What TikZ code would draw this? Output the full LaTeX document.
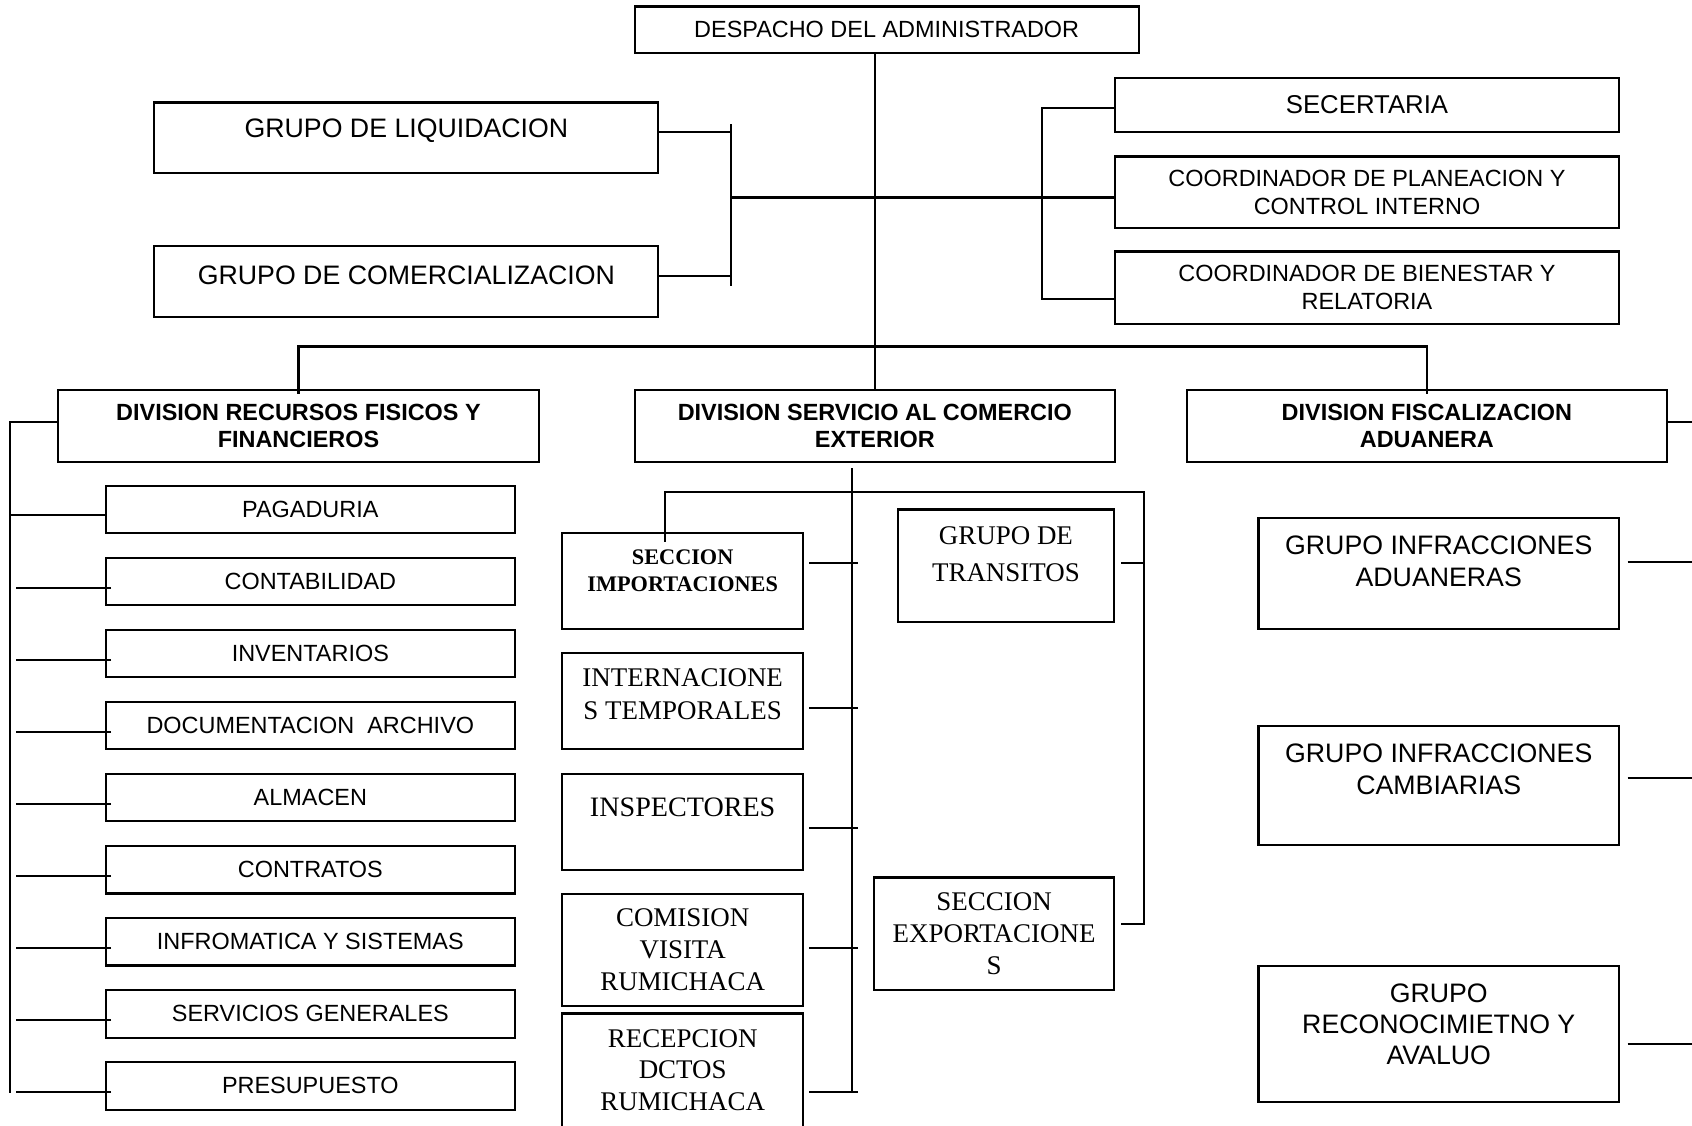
\documentclass[tikz,border=0pt]{standalone}
\usepackage{fontspec}
\setmainfont{Liberation Sans}
\newfontfamily\timesfont{Liberation Serif}
\usetikzlibrary{calc}

\begin{document}
\begin{tikzpicture}
        \tikzstyle{every path}=[line width=0.9pt]
        \tikzstyle{box}=[rectangle,draw=black,fill=white,inner sep=1.5pt,align=center]
        \tikzstyle{txt}=[align=center,inner sep=0pt]
        \tikzstyle{f10}=[font=\fontsize{10}{12}\selectfont]
        \tikzstyle{f10b}=[font=\fontsize{10}{11.5}\selectfont\bfseries]
        \tikzstyle{f11}=[font=\fontsize{11}{13}\selectfont]
        \tikzstyle{f115}=[font=\fontsize{11.4}{13.8}\selectfont]
        \tikzstyle{tm}=[font=\timesfont\fontsize{11.5}{13.5}\selectfont]
        \useasboundingbox (0,0) rectangle (25.38,-16.875);

        % top level
        \node [box, f10, minimum width=7.561cm, minimum height=0.696cm] (n0) at (13.300,-0.445) {DESPACHO DEL ADMINISTRADOR};
        \node [box, minimum width=7.561cm, minimum height=1.052cm, label={[txt, f115, yshift=0.105cm]center:{GRUPO DE LIQUIDACION}}] (n1) at (6.096,-2.064) {};
        \node [box, minimum width=7.561cm, minimum height=1.069cm, label={[txt, f115, yshift=0.097cm]center:{GRUPO DE COMERCIALIZACION}}] (n2) at (6.096,-4.226) {};
        \node [box, f11, minimum width=7.561cm, minimum height=0.810cm] (n3) at (20.505,-1.570) {SECERTARIA};
        \node [box, f10, minimum width=7.561cm, minimum height=1.069cm] (n4) at (20.505,-2.882) {COORDINADOR DE PLANEACION Y\\CONTROL INTERNO};
        \node [box, f10, minimum width=7.561cm, minimum height=1.085cm] (n5) at (20.505,-4.315) {COORDINADOR DE BIENESTAR Y\\RELATORIA};

        % divisiones
        \node [box, f10b, minimum width=7.205cm, minimum height=1.085cm] (n6) at (4.477,-6.387) {DIVISION RECURSOS FISICOS Y\\FINANCIEROS};
        \node [box, f10b, minimum width=7.205cm, minimum height=1.085cm] (n7) at (13.122,-6.387) {DIVISION SERVICIO AL COMERCIO\\EXTERIOR};
        \node [box, f10b, minimum width=7.205cm, minimum height=1.085cm] (n8) at (21.403,-6.387) {DIVISION FISCALIZACION\\ADUANERA};

        \coordinate (b1) at (10.961,-1.862);
        \coordinate (b2) at (10.961,-4.290);
        \coordinate (b3) at (10.961,-2.963);
        \draw [] (n0.south -| n7.north) -- (n7.north);
        \draw [] ([yshift=0.089cm]n1.east) -- ++(1.085,0);
        \draw [] ([yshift=0.081cm]n2.east) -- ++(1.085,0);
        \draw [] (b1) -- (b2);
        \draw [] (b3) -- (b3 -| n4.west);
        \draw [] ([yshift=-0.049cm]n3.west) -- ++(-1.085,0) |- ([yshift=-0.170cm]n5.west);
        \draw [] ([yshift=-0.08cm]n6.north) -- ++(0,0.712) -| ([yshift=-0.08cm]n8.north);
        \draw [] ([yshift=0.057cm]n8.east) -- ++(1,0);

        % recursos fisicos y financieros
        \foreach \name [count=\i from 9] in {PAGADURIA, CONTABILIDAD, INVENTARIOS, DOCUMENTACION\ \ ARCHIVO, ALMACEN, CONTRATOS, INFROMATICA Y SISTEMAS, SERVICIOS GENERALES, PRESUPUESTO}
            \node [box, f10, minimum width=6.136cm, minimum height=0.712cm] (n\i) at (4.655,{-7.642-1.0807*(\i-9)}) {\name};
        \draw [] ([yshift=0.057cm]n6.west) -- ++(-0.712,0) -- ++(0,-10.07);
        \draw [] ([yshift=-0.081cm]n9.west) -- ++(-1.425,0);
        \foreach \i in {10,...,17}
            \draw [] ([shift={(0.097,-0.097)}]n\i.west) -- ++(-1.425,0);

        % servicio al comercio exterior
        \node [box, minimum width=3.610cm, minimum height=1.441cm, label={[txt, font=\timesfont\fontsize{9.5}{11.5}\selectfont\bfseries, yshift=0.162cm]center:{SECCION\\IMPORTACIONES}}] (n18) at (10.240,-8.718) {};
        \node [box, minimum width=3.610cm, minimum height=1.441cm, label={[txt, font=\timesfont\fontsize{11.5}{14.2}\selectfont, yshift=0.097cm]center:{INTERNACIONE\\S TEMPORALES}}] (n19) at (10.240,-10.515) {};
        \node [box, minimum width=3.610cm, minimum height=1.441cm, label={[txt, font=\timesfont\fontsize{12}{14}\selectfont, yshift=0.219cm]center:{INSPECTORES}}] (n20) at (10.240,-12.329) {};
        \node [box, tm, minimum width=3.610cm, minimum height=1.684cm] (n21) at (10.240,-14.247) {COMISION\\VISITA\\RUMICHACA};
        \node [box, minimum width=3.610cm, minimum height=1.959cm, label={[txt, tm, yshift=0.130cm]center:{RECEPCION\\DCTOS\\RUMICHACA}}] (n22) at (10.240,-16.182) {};
        \node [box, minimum width=3.238cm, minimum height=1.684cm, label={[txt, font=\timesfont\fontsize{11.5}{16}\selectfont, yshift=0.170cm]center:{GRUPO DE\\TRANSITOS}}] (n23) at (15.089,-8.484) {};
        \node [box, tm, minimum width=3.594cm, minimum height=1.684cm] (n24) at (14.911,-14.004) {SECCION\\EXPORTACIONE\\S};

        \coordinate (k1) at (17.161,-7.383);
        \draw [] ([shift={(-0.348,-0.081)}]n7.south) -- ++(0,-9.374);
        \draw [] ([shift={(-0.267,-0.146)}]n18.north) |- (k1) |- ([shift={(0.097,0.145)}]n24.east);
        \draw [] ([shift={(0.097,0.033)}]n23.east) -- ++(0.356,0);
        \draw [] ([shift={(0.081,0.267)}]n18.east) -- ++(0.729,0);
        \draw [] ([shift={(0.081,-0.106)}]n19.east) -- ++(0.729,0);
        \draw [] ([shift={(0.081,-0.089)}]n20.east) -- ++(0.729,0);
        \draw [] ([shift={(0.081,0.032)}]n21.east) -- ++(0.729,0);
        \draw [] ([shift={(0.081,-0.202)}]n22.east) -- ++(0.729,0);

        % fiscalizacion aduanera
        \node [box, minimum width=5.407cm, minimum height=1.668cm, label={[txt, f115, yshift=0.186cm]center:{GRUPO INFRACCIONES\\ADUANERAS}}] (n25) at (21.581,-8.605) {};
        \node [box, minimum width=5.407cm, minimum height=1.781cm, label={[txt, f115, yshift=0.243cm]center:{GRUPO INFRACCIONES\\CAMBIARIAS}}] (n26) at (21.581,-11.786) {};
        \node [box, minimum width=5.407cm, minimum height=2.040cm, label={[txt, font=\fontsize{11.4}{13.3}\selectfont, yshift=0.146cm]center:{GRUPO\\RECONOCIMIETNO Y\\AVALUO}}] (n27) at (21.581,-15.510) {};
        \draw [] ([shift={(0.113,0.170)}]n25.east) -- ++(1.2,0);
        \draw [] ([shift={(0.113,0.113)}]n26.east) -- ++(1.2,0);
        \draw [] ([shift={(0.113,-0.146)}]n27.east) -- ++(1.2,0);
    \end{tikzpicture}
\end{document}
